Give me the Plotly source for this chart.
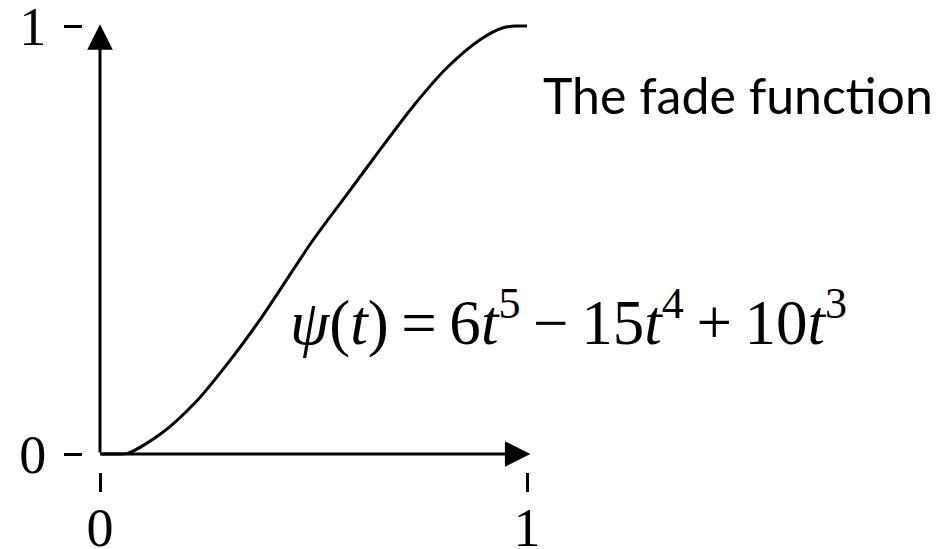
import plotly.graph_objects as go

# Curve points
t_vals = [0.0, 0.03, 0.066, 0.145, 0.222, 0.300, 0.379, 0.499, 0.578,
          0.656, 0.733, 0.813, 0.890, 0.944, 0.975, 1.0]
psi_vals = [0.0, 0.0, 0.002, 0.049, 0.119, 0.213, 0.320, 0.500, 0.606,
            0.711, 0.812, 0.903, 0.968, 0.996, 1.0, 1.0]

tick_vals = [0, 1]
tick_text = ["0", "1"]

title_text = "The fade function"
formula_text = ("<i>ψ</i>(<i>t</i>)\u2009=\u20096<i>t</i><sup>5</sup>\u2009−\u200915<i>t</i>"
                "<sup>4</sup>\u2009+\u200910<i>t</i><sup>3</sup>")

fig = go.Figure()
fig.add_trace(go.Scatter(x=t_vals, y=psi_vals, mode="lines",
                         line=dict(color="black", width=3, shape="spline", smoothing=0.8),
                         cliponaxis=False, showlegend=False, hoverinfo="skip"))

W, H = 948, 549
x0px, x1px = 100, 527
y0px, y1px = 454, 26
sx = x1px - x0px
sy = y0px - y1px
xr = [-x0px / sx, (W - x0px) / sx]
yr = [-(H - y0px) / sy, y0px / sy]

tick_font = dict(family="Liberation Serif", size=54, color="black")

fig.update_xaxes(range=xr, domain=[0, 1], anchor="free", position=(H - 472) / H,
                 tickvals=tick_vals, ticktext=tick_text, ticks="outside", ticklen=19,
                 tickwidth=3, tickcolor="black", showline=False, showgrid=False,
                 zeroline=False, tickfont=tick_font, ticklabelstandoff=-11,
                 ticklabeloverflow="allow", automargin=False, fixedrange=True)
fig.update_yaxes(range=yr, domain=[0, 1], anchor="free", position=82 / W,
                 tickvals=tick_vals, ticktext=tick_text, ticks="outside", ticklen=18,
                 tickwidth=3, tickcolor="black", showline=False, showgrid=False,
                 zeroline=False, tickfont=tick_font, ticklabelstandoff=7,
                 ticklabeloverflow="allow", automargin=False, fixedrange=True)

# axis arrows
fig.add_annotation(x=1.008, y=0, ax=0, ay=0, xref="x", yref="y", axref="x", ayref="y",
                   text="", showarrow=True, arrowhead=2, arrowsize=1.7, arrowwidth=3,
                   arrowcolor="black", standoff=0, startstandoff=0)
fig.add_annotation(x=0, y=1.004, ax=0, ay=0, xref="x", yref="y", axref="x", ayref="y",
                   text="", showarrow=True, arrowhead=2, arrowsize=1.7, arrowwidth=3,
                   arrowcolor="black", standoff=0, startstandoff=0)

fig.add_annotation(x=1.494, y=0.838, xref="x", yref="y", text=title_text, showarrow=False,
                   font=dict(family="Lato", size=50, color="black"))
fig.add_annotation(x=1.098, y=0.317, xref="x", yref="y", text=formula_text, showarrow=False,
                   font=dict(family="Liberation Serif", size=63, color="black"))

fig.update_layout(width=W, height=H, margin=dict(l=0, r=0, t=0, b=0),
                  paper_bgcolor="white", plot_bgcolor="white", showlegend=False)

fig.write_html("out.html", config={"displayModeBar": False, "staticPlot": True},
               post_script="document.body.style.margin='0';")
